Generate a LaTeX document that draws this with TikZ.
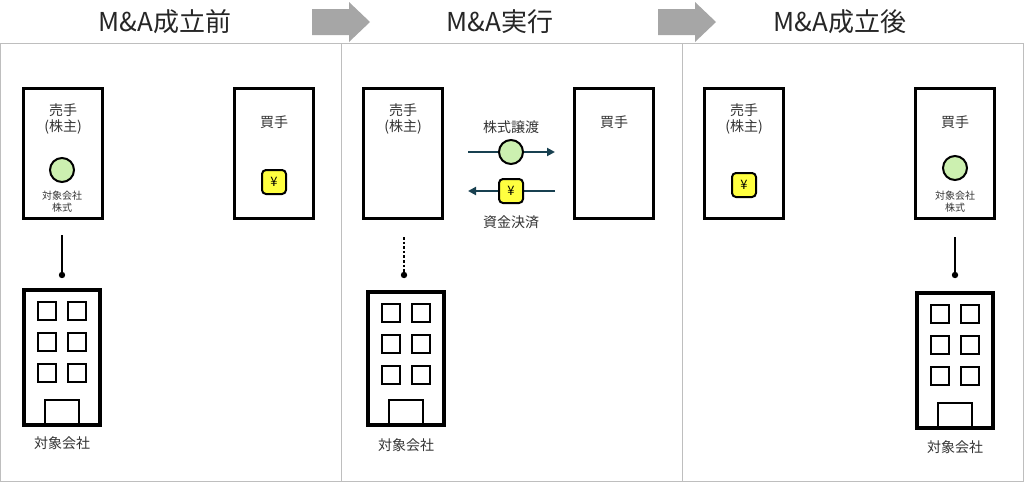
\documentclass[tikz,border=0pt]{standalone}
\usepackage{fontspec}
\setmainfont{Noto Sans CJK JP}
\usetikzlibrary{positioning,arrows.meta}
\definecolor{panelgray}{RGB}{190,190,190}
\definecolor{arrowgray}{RGB}{166,166,166}
\definecolor{stockgreen}{RGB}{204,240,176}
\definecolor{yenyellow}{RGB}{255,255,64}
\definecolor{flowteal}{RGB}{24,64,80}
\tikzset{
 panel/.style={draw=panelgray,line width=1pt},
 party/.style={draw,line width=3.4pt,minimum width=79pt,minimum height=130pt},
 title/.style={font=\fontsize{26}{28}\selectfont,text=black!85},
 lbl/.style={font=\fontsize{14}{16}\selectfont,text=black!80},
 small/.style={font=\fontsize{10}{11}\selectfont,inner sep=0pt,text=black!80},
 stock/.style={circle,draw,line width=2pt,fill=stockgreen,minimum size=24pt,inner sep=0pt},
 yen/.style={draw,line width=2pt,fill=yenyellow,rounded corners=4pt,minimum size=24pt,inner sep=0pt,font=\fontsize{13}{14}\selectfont},
 flow/.style={draw=flowteal,line width=2.2pt,-{Triangle[length=8pt,width=8pt]}},
 link/.style={line width=2.6pt},
 pic win/.style={draw,line width=2.4pt},
 bigarrow/.style={fill=arrowgray}
}
\newcommand{\tower}[3]{% x, y top, height
 \draw[line width=3.4pt] (#1-38,#2) rectangle (#1+38,#2+#3);
 \foreach \r in {0,1,2}
  \foreach \c in {-1,1}
   \draw[pic win] (#1+\c*15-9,#2+12+\r*31) rectangle ++(18,18);
 \draw[pic win] (#1-17,#2+#3-25) rectangle (#1+17,#2+#3);
}
\newcommand{\stepper}[1]{% x of arrow tail
 \fill[bigarrow] (#1,9) -- (#1+37,9) -- (#1+37,2) -- (#1+58,22) -- (#1+37,42) -- (#1+37,35) -- (#1,35) -- cycle;
}
\begin{document}
\begin{tikzpicture}[x=1pt,y=-1pt]
 \useasboundingbox (0,0) rectangle (1024,482);
 % panels
 \draw[panel] (0.5,43) rectangle (341,481.5);
 \draw[panel] (341,43) rectangle (682,481.5);
 \draw[panel] (682,43) rectangle (1023.5,481.5);
 \node[title] (t1) at (165,22) {M\&A成立前};
 \node[title] (t2) at (500,22) {M\&A実行};
 \node[title] (t3) at (840,22) {M\&A成立後};
 \stepper{312}
 \stepper{658}

 % before
 \node[party] (s1) at (63,153.5) {};
 \node[lbl,align=center] (s1t) at (63,119) {売手\\(株主)};
 \node[stock] (c1) at (62,170) {};
 \node[small,align=center] (c1t) at (62,202) {対象会社\\[1pt]株式};
 \node[party] (b1) at (274,153.5) {};
 \node[lbl] (b1t) at (274,122) {買手};
 \node[yen] (y1) at (274,182) {¥};
 \coordinate (l1a) at (62,235);
 \coordinate (l1b) at (62,275);
 \draw[link] (l1a) -- (l1b);
 \fill (l1b) circle (3.2pt);
 \tower{62}{290}{135}
 \node[lbl] (k1) at (62,443) {対象会社};

 % deal
 \node[party] (s2) at (403,153.5) {};
 \node[lbl,align=center] (s2t) at (403,119) {売手\\(株主)};
 \node[party] (b2) at (614,153.5) {};
 \node[lbl] (b2t) at (614,122) {買手};
 \node[lbl] (st) at (511,127) {株式譲渡};
 \coordinate (f1a) at (468,152);
 \coordinate (f1b) at (555,152);
 \draw[flow] (f1a) -- (f1b);
 \node[stock] (c2) at (511,152) {};
 \coordinate (f2a) at (555,191);
 \coordinate (f2b) at (468,191);
 \draw[flow] (f2a) -- (f2b);
 \node[yen] (y2) at (511,191) {¥};
 \node[lbl] (pay) at (511,222) {資金決済};
 \coordinate (l2a) at (404,237);
 \coordinate (l2b) at (404,275);
 \draw[link,dash pattern=on 2.6pt off 2pt] (l2a) -- (l2b);
 \fill (l2b) circle (3.2pt);
 \tower{406}{292}{133}
 \node[lbl] (k2) at (406,445) {対象会社};

 % after
 \node[party] (s3) at (744,153.5) {};
 \node[lbl,align=center] (s3t) at (744,119) {売手\\(株主)};
 \node[yen] (y3) at (744,185) {¥};
 \node[party] (b3) at (955,153.5) {};
 \node[lbl] (b3t) at (955,122) {買手};
 \node[stock] (c3) at (955,168) {};
 \node[small,align=center] (c3t) at (955,202) {対象会社\\[1pt]株式};
 \coordinate (l3a) at (955,237);
 \coordinate (l3b) at (955,275);
 \draw[link] (l3a) -- (l3b);
 \fill (l3b) circle (3.2pt);
 \tower{955}{293}{135}
 \node[lbl] (k3) at (955,447) {対象会社};
\end{tikzpicture}
\end{document}
